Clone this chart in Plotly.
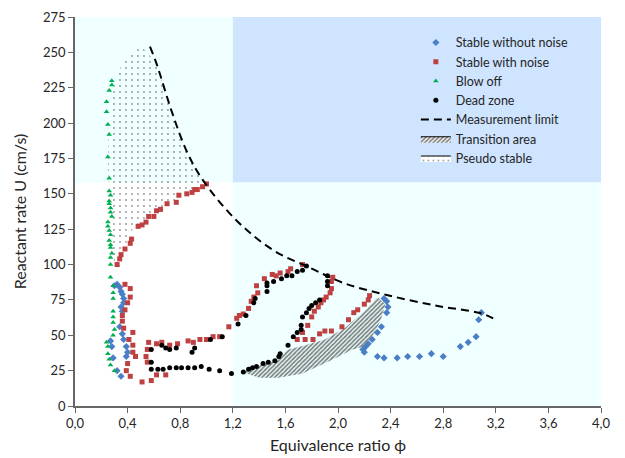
import plotly.graph_objects as go

# ---------------- data ----------------
blow_x = [0.28,0.28,0.26,0.24,0.24,0.25,0.26,0.25,0.26,0.26,0.27,0.26,0.26,0.27,0.27,0.28,0.25,0.25,0.26,0.27,0.26,0.27,0.27,0.28,0.27,0.27,0.27,0.29,0.29,0.29,0.29,0.29,0.29,0.30,0.29,0.24,0.25,0.25,0.26,0.27,0.30]
blow_u = [230,227,223,215,208,199,192,176,161,152,149,145,143,140,137,134,130,127,124,121,117,114,112,108,105,100,91,85,80,76,67,63,59,54,50,45,42,37,33,29,25]

noise_x = [1.00,0.97,0.93,0.91,0.89,0.85,0.79,0.77,0.70,0.65,0.62,0.60,0.56,0.54,0.51,0.48,0.43,0.42,0.38,0.35,0.34,0.32,
           0.38,0.42,0.42,0.40,0.38,0.36,0.36,0.37,0.44,0.41,0.44,0.44,0.46,0.40,0.39,0.42,0.51,0.58,0.62,0.69,
           0.54,0.55,0.55,0.56,0.62,0.66,0.72,0.78,0.86,0.90,0.95,1.00,1.05,1.10,1.17,1.23,1.25,1.28,1.32,1.34,1.36,1.39,1.38,
           1.44,1.50,1.53,1.56,1.62,1.64,1.73,1.96,1.95,1.95,1.94,1.91,1.89,1.87,1.85,1.82,1.80,1.77,1.73,1.69,1.75,1.81,1.86,1.90,1.95,
           2.03,2.08,2.12,2.15,2.20,2.23,2.24]
noise_u = [157,155,153,153,151,150,149,144,143,139,138,134,134,130,128,127,118,115,111,107,104,100,
           86,83,77,73,68,64,60,55,52,47,43,38,35,30,25,21,17,18,22,22,
           35,31,40,45,44,45,43,44,46,45,47,47,49,49,56,62,64,65,69,74,77,80,85,
           90,93,92,94,95,97,100,91,88,83,80,77,75,73,70,67,63,57,52,47,47,47,51,53,53,
           56,61,66,68,72,75,78]

dead_x = [0.58,0.66,0.69,0.72,0.77,0.89,0.91,1.03,1.12,1.24,1.30,1.36,1.37,1.46,1.46,1.46,1.51,1.57,1.61,1.65,1.69,1.73,1.76,
          0.58,0.58,0.63,0.67,0.72,0.77,0.81,0.86,0.91,0.96,1.02,1.10,1.19,1.28,1.32,1.35,1.38,1.43,1.47,1.52,1.55,1.56,1.62,
          1.66,1.69,1.72,1.72,1.73,1.76,1.78,1.80,1.83,1.86,1.92,1.92,1.92]
dead_u = [40,43,41,40,41,38,41,47,49,58,64,73,76,81,85,87,88,90,92,92,95,96,99,
          31,26,26,26,27,27,27,27,27,28,26,25,23,24,26,27,28,30,31,32,35,37,43,
          49,52,54,57,63,66,69,71,73,75,85,88,92]

clean_x = [0.30,0.32,0.34,0.35,0.36,0.37,0.37,0.35,0.36,0.34,0.36,0.37,0.39,0.40,0.39,0.27,0.28,0.29,0.32,0.35,
           2.35,2.37,2.38,2.37,2.33,2.30,2.26,2.23,2.21,2.19,2.20,2.30,2.35,2.45,2.53,2.62,2.71,2.80,2.93,2.99,3.05,3.07,3.09]
clean_u = [85,86,84,81,79,76,73,70,67,56,51,47,42,38,35,46,42,34,25,21,
           76,74,70,66,56,52,47,44,42,40,38,35,34,34,35,35,37,35,42,45,49,61,66]

limit_x = [0.57,0.62,0.74,0.85,0.97,1.23,1.51,1.79,2.04,2.37,2.76,3.08,3.18]
limit_u = [254,242,207,180,160,131,110,97.6,87,78.5,70.7,65.7,62]

pseudo_x = [0.49,0.55,0.62,0.74,0.85,0.97,0.95,0.85,0.70,0.55,0.45,0.40,0.36,0.33,0.30,0.27,0.25,0.26,0.32,0.40,0.49]
pseudo_u = [255,250,242,207,180,160,157,150,143,133,127,118,105,96,100,130,170,210,235,248,255]

trans_x = [1.27,1.40,1.55,1.73,1.94,2.11,2.20,2.28,2.33,2.36,2.30,2.20,2.05,1.90,1.75,1.62,1.55,1.45,1.35,1.27]
trans_u = [24,20,20,23,32,40,42,52,62,72,77,67,55,47,43,40,34,30,27,24]

x_ticks = [0.0,0.4,0.8,1.2,1.6,2.0,2.4,2.8,3.2,3.6,4.0]
x_tick_text = ["0,0","0,4","0,8","1,2","1,6","2,0","2,4","2,8","3,2","3,6","4,0"]
y_ticks = [0,25,50,75,100,125,150,175,200,225,250,275]

# ---------------- figure ----------------
FONT = "Lato"
TICK_FS = 13
TITLE_FS = 16
LEG_FS = 12.5
TXT = "#262626"
fig = go.Figure()

# filled regions (no legend)
fig.add_trace(go.Scatter(x=pseudo_x, y=pseudo_u, mode="lines", fill="toself",
                         line=dict(width=0, color="rgba(0,0,0,0)"),
                         fillcolor="rgba(0,0,0,0)",
                         fillpattern=dict(shape=".", fgcolor="#333", bgcolor="rgba(0,0,0,0)", size=6, solidity=0.08),
                         showlegend=False, hoverinfo="skip"))
fig.add_trace(go.Scatter(x=trans_x, y=trans_u, mode="lines", fill="toself",
                         line=dict(width=0, color="rgba(0,0,0,0)"),
                         fillcolor="rgba(0,0,0,0)",
                         fillpattern=dict(shape="/", fgcolor="black", bgcolor="rgba(0,0,0,0)", size=3, solidity=0.55),
                         showlegend=False, hoverinfo="skip"))

fig.add_trace(go.Scatter(x=clean_x, y=clean_u, mode="markers", name="Stable without noise",
                         marker=dict(symbol="diamond", size=5.5, color="#4A7EC7")))
fig.add_trace(go.Scatter(x=noise_x, y=noise_u, mode="markers", name="Stable with noise",
                         marker=dict(symbol="square", size=5, color="#BE4040")))
fig.add_trace(go.Scatter(x=blow_x, y=blow_u, mode="markers", name="Blow off",
                         marker=dict(symbol="triangle-up", size=5, color="#00B050")))
fig.add_trace(go.Scatter(x=dead_x, y=dead_u, mode="markers", name="Dead zone",
                         marker=dict(symbol="circle", size=5, color="black")))
fig.add_trace(go.Scatter(x=limit_x, y=limit_u, mode="lines", name="Measurement limit",
                         line=dict(color="black", width=2, dash="8px,5px", shape="spline")))
# legend-only entries for patterns
fig.add_trace(go.Scatter(x=[None], y=[None], mode="lines", fill="toself", name="Transition area",
                         line=dict(width=1, color="black"), fillcolor="rgba(0,0,0,0)",
                         fillpattern=dict(shape="/", fgcolor="black", bgcolor="white", size=3, solidity=0.55)))
fig.add_trace(go.Scatter(x=[None], y=[None], mode="lines", fill="toself", name="Pseudo stable",
                         line=dict(width=1, color="black"), fillcolor="rgba(0,0,0,0)",
                         fillpattern=dict(shape=".", fgcolor="#333", bgcolor="white", size=5, solidity=0.1)))

shapes = [
    dict(type="rect", xref="x", yref="y", x0=0, x1=1.2, y0=158, y1=275, fillcolor="#F0FFFF", line_width=0, layer="below"),
    dict(type="rect", xref="x", yref="y", x0=1.2, x1=4, y0=158, y1=275, fillcolor="#CFE4FF", line_width=0, layer="below"),
    dict(type="rect", xref="x", yref="y", x0=1.2, x1=4, y0=0, y1=158, fillcolor="#F0FFFF", line_width=0, layer="below"),
    dict(type="rect", xref="paper", yref="paper", x0=0.6426, x1=0.979, y0=0.612, y1=0.974, fillcolor="white", line_width=0, layer="below"),
]

# page body has an 8px margin, so the figure is drawn 8px smaller and the margins shifted
fig.update_layout(
    width=617, height=450,
    margin=dict(l=67, r=24, t=9, b=52),
    paper_bgcolor="white", plot_bgcolor="white",
    font=dict(family=FONT, size=TICK_FS, color=TXT),
    shapes=shapes,
    showlegend=True,
    legend=dict(x=0.648, y=0.972, xanchor="left", yanchor="top", bgcolor="rgba(0,0,0,0)",
                font=dict(family=FONT, size=LEG_FS, color=TXT), tracegroupgap=0),
    xaxis=dict(range=[0, 4], tickvals=x_ticks, ticktext=x_tick_text, showgrid=False, zeroline=False,
               showline=True, linecolor="#666", linewidth=1.5, ticks="outside", ticklen=5, tickcolor="#666",
               automargin=False, tickfont=dict(size=TICK_FS), ticklabeloverflow="allow",
               title=dict(text="Equivalence ratio ϕ", font=dict(family=FONT, size=TITLE_FS), standoff=9)),
    yaxis=dict(range=[0, 275], tickvals=y_ticks, showgrid=False, zeroline=False,
               showline=True, linecolor="#666", linewidth=1.5, ticks="outside", ticklen=5, tickcolor="#666",
               automargin=False, tickfont=dict(size=TICK_FS), ticklabeloverflow="allow",
               title=dict(text="Reactant rate U (cm/s)", font=dict(family=FONT, size=TITLE_FS), standoff=12)),
)

fig.write_html("out.html")
